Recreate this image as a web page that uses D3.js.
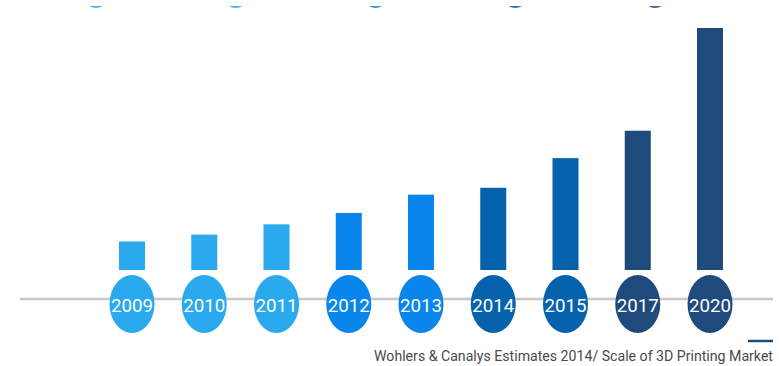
<!DOCTYPE html>
<html>
<head>
<meta charset="utf-8">
<script src="https://cdn.jsdelivr.net/npm/d3@7"></script>
<style>
  html, body { margin: 0; padding: 0; background: #fff; }
  svg { display: block; }
</style>
</head>
<body>
<svg id="chart" width="779" height="366"></svg>
<script>
// Market scale (USD billions) by year
const years = ["2009", "2010", "2011", "2012", "2013", "2014", "2015", "2017", "2020"];
const values = [2.5, 3.1, 4.0, 5.0, 6.6, 7.2, 9.8, 12.2, 21.2];
const tiers = ["light", "light", "light", "mid", "mid", "dark", "dark", "navy", "navy"];
const tierColors = { light: "#2aa9ef", mid: "#0886ec", dark: "#0563ad", navy: "#1f4a7c" };
// Row of markers above (only their lower edges are in view)
const topMarkerTiers = ["light", "light", "mid", "dark", "navy"];
const sourceText = "Wohlers & Canalys Estimates 2014/ Scale of 3D Printing Market";

const svg = d3.select("#chart");
const W = 779, H = 366;

const x = d3.scalePoint().domain(years).range([132, 710]);
const y = d3.scaleLinear().domain([0, d3.max(values)]).range([270, 28]);
const barW = 26;
const axisY = 299;

// top markers, clipped to their lower caps
const xTop = d3.scalePoint().domain(d3.range(topMarkerTiers.length)).range([96, 655]);
svg.append("defs").append("clipPath").attr("id", "capClip")
  .append("rect").attr("x", 0).attr("y", 6).attr("width", W).attr("height", 6);
svg.append("g").attr("clip-path", "url(#capClip)")
  .selectAll("ellipse").data(topMarkerTiers).join("ellipse")
  .attr("cx", (d, i) => xTop(i))
  .attr("cy", -2)
  .attr("rx", 11)
  .attr("ry", 10)
  .attr("fill", d => tierColors[d])
  .attr("opacity", 0.85);

// baseline rule
svg.append("line")
  .attr("x1", 20).attr("x2", 773)
  .attr("y1", axisY).attr("y2", axisY)
  .attr("stroke", "#c8c8c8")
  .attr("stroke-width", 2.5);

// bars
svg.append("g").selectAll("rect").data(years).join("rect")
  .attr("x", d => x(d) - barW / 2)
  .attr("y", (d, i) => y(values[i]))
  .attr("width", barW)
  .attr("height", (d, i) => y(0) - y(values[i]))
  .attr("fill", (d, i) => tierColors[tiers[i]]);

// year badges
const badges = svg.append("g").selectAll("g").data(years).join("g")
  .attr("transform", d => `translate(${x(d)},304)`);
badges.append("ellipse")
  .attr("rx", 22.5).attr("ry", 29)
  .attr("fill", (d, i) => tierColors[tiers[i]]);
badges.append("text")
  .attr("text-anchor", "middle")
  .attr("y", 8)
  .attr("fill", "#fff")
  .attr("font-family", "Roboto, 'Liberation Sans', sans-serif")
  .attr("font-size", 19)
  .attr("textLength", 42)
  .attr("lengthAdjust", "spacingAndGlyphs")
  .text(d => d);

// legend dash
svg.append("line")
  .attr("x1", 748).attr("x2", 773)
  .attr("y1", 341).attr("y2", 341)
  .attr("stroke", tierColors.navy)
  .attr("stroke-width", 2.5);

// source note
svg.append("text")
  .attr("x", 773).attr("y", 361)
  .attr("text-anchor", "end")
  .attr("fill", "#4a4a4a")
  .attr("font-family", "Roboto, 'Liberation Sans', sans-serif")
  .attr("font-size", 14)
  .attr("textLength", 399)
  .attr("lengthAdjust", "spacingAndGlyphs")
  .text(sourceText);
</script>
</body>
</html>
